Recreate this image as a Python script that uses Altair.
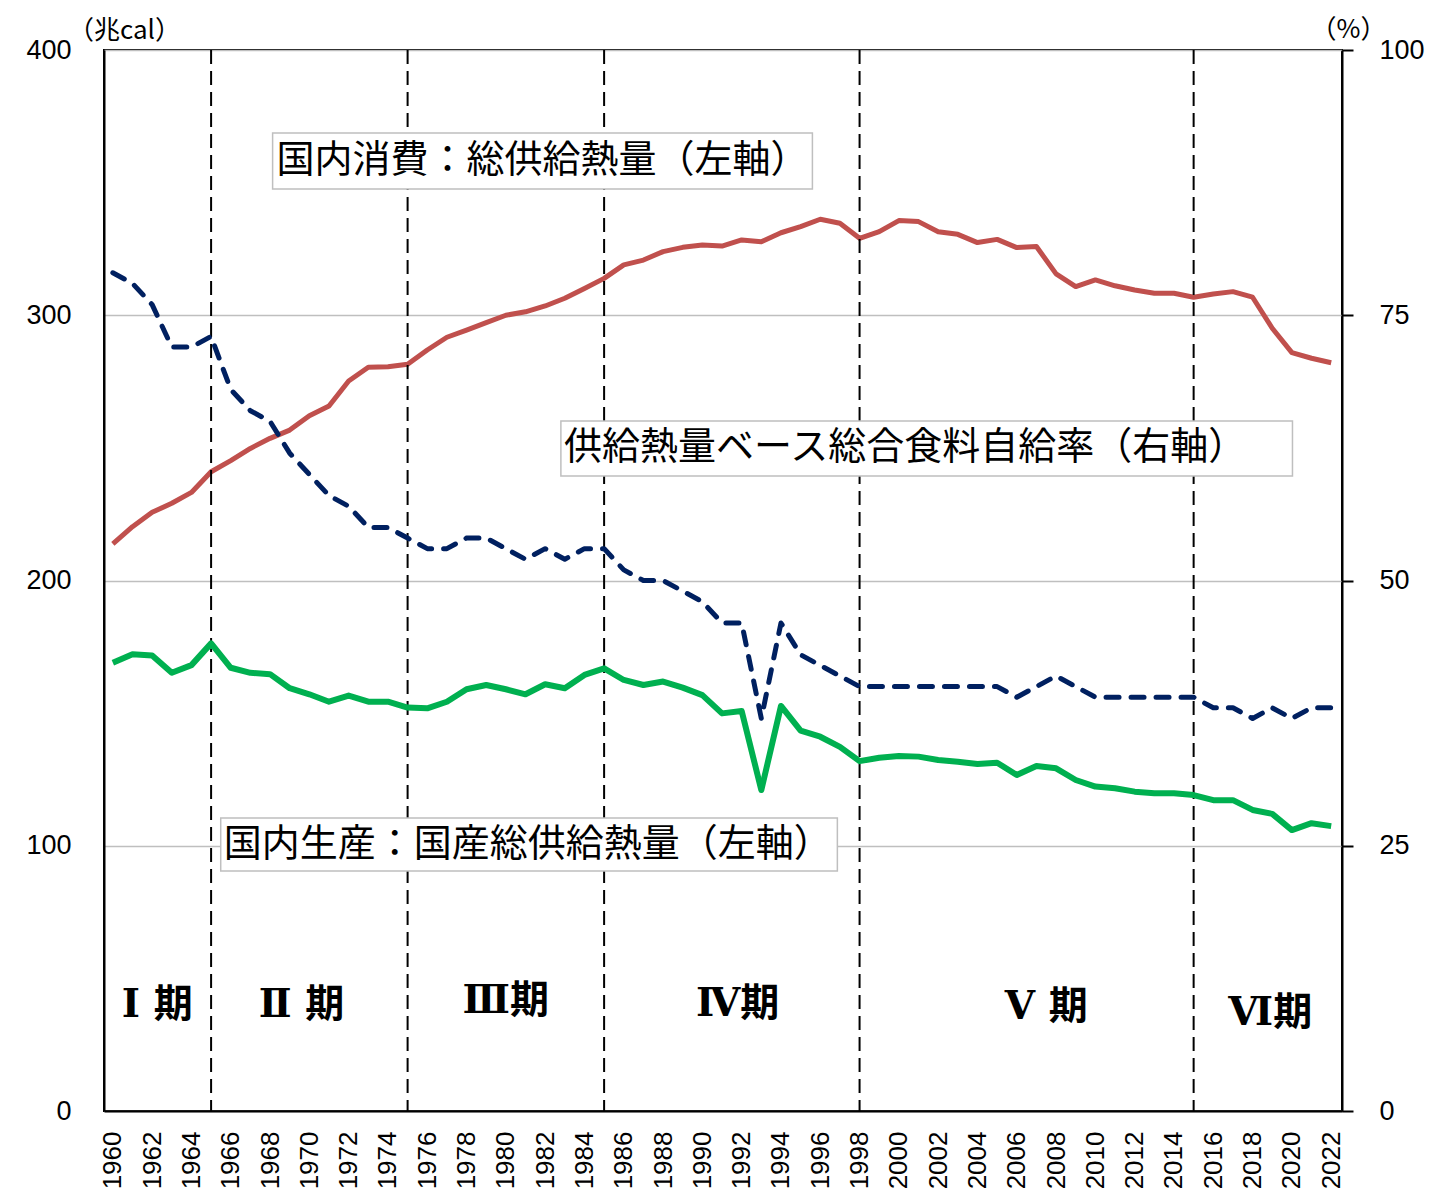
import altair as alt
import pandas as pd

years = list(range(1960, 2023))

# 総供給熱量（兆cal）
supply = [213.8, 220.3, 225.7, 229.1, 233.2, 241.0, 245.2, 249.8, 253.6, 256.7,
          262.1, 265.8, 275.2, 280.4, 280.6, 281.5, 286.9, 291.7, 294.4, 297.2,
          300.0, 301.3, 303.5, 306.4, 310.1, 313.9, 319.0, 320.8, 324.0, 325.6,
          326.5, 326.1, 328.4, 327.7, 331.1, 333.4, 336.2, 334.7, 329.0, 331.5,
          335.7, 335.3, 331.5, 330.5, 327.4, 328.6, 325.5, 325.9, 315.6, 310.8,
          313.3, 311.1, 309.5, 308.3, 308.3, 306.8, 308.0, 308.9, 306.8, 295.1,
          285.9, 283.8, 282.1]

# 国産総供給熱量（兆cal）
domestic = [169.0, 172.2, 171.7, 165.2, 168.1, 176.3, 167.1, 165.2, 164.7, 159.4,
            157.1, 154.3, 156.6, 154.3, 154.3, 152.1, 151.8, 154.3, 159.0, 160.6,
            159.0, 157.1, 160.9, 159.4, 164.4, 166.9, 162.5, 160.6, 161.9, 159.6,
            156.8, 149.9, 150.8, 121.0, 152.7, 143.4, 141.1, 137.3, 131.9, 133.2,
            133.8, 133.6, 132.3, 131.7, 130.8, 131.3, 126.7, 130.1, 129.2, 124.8,
            122.3, 121.7, 120.4, 119.8, 119.8, 119.1, 117.2, 117.2, 113.5, 112.0,
            105.9, 108.5, 107.4]

# 供給熱量ベース総合食料自給率（%）
rate = [79, 78, 76, 72, 72, 73, 68, 66, 65, 62,
        60, 58, 57, 55, 55, 54, 53, 53, 54, 54,
        53, 52, 53, 52, 53, 53, 51, 50, 50, 49,
        48, 46, 46, 37, 46, 43, 42, 41, 40, 40,
        40, 40, 40, 40, 40, 40, 39, 40, 41, 40,
        39, 39, 39, 39, 39, 39, 38, 38, 37, 38,
        37, 38, 38]

# period boundaries
boundaries = [1965, 1975, 1985, 1998, 2015]
period_labels = ["Ⅰ 期", "Ⅱ 期", "Ⅲ期", "Ⅳ期", "Ⅴ 期", "Ⅵ期"]
period_x = [1962.26, 1969.6, 1980.0, 1991.8, 2007.5, 2018.9]
period_y = [40.0, 40.0, 41.5, 40.3, 39.2, 36.9]

# annotation boxes
box_text = ["国内消費：総供給熱量（左軸）",
            "供給熱量ベース総合食料自給率（右軸）",
            "国内生産：国産総供給熱量（左軸）"]
box_x1 = [1968.13, 1982.80, 1965.49]
box_x2 = [1995.60, 2020.03, 1996.87]
box_y1 = [368.7, 260.1, 110.5]
box_y2 = [347.6, 239.4, 90.5]
text_x = [1968.33, 1982.96, 1965.64]
text_y = [358.2, 250.0, 100.3]

df = pd.DataFrame({"year": years, "supply": supply, "domestic": domestic, "rate": rate})
df_b = pd.DataFrame({"year": boundaries})
df_p = pd.DataFrame({"year": period_x, "val": period_y, "label": period_labels})
df_box = pd.DataFrame({"year": box_x1, "year2": box_x2, "val": box_y1, "val2": box_y2})
df_txt = pd.DataFrame({"year": text_x, "val": text_y, "label": box_text})

W, H = 1238, 1061
LAB_FONT = "Liberation Sans, Arial, sans-serif"
JP_FONT = "Noto Sans CJK JP"

xscale = alt.Scale(domain=[1959.55, 2022.55], nice=False, zero=False)
xaxis = alt.Axis(values=list(range(1960, 2023, 2)), format="d", labelAngle=270,
                 ticks=False, grid=False, title="", labelFont=LAB_FONT,
                 labelFontSize=26, labelColor="black", labelPadding=20,
                 domainColor="black", domainWidth=2, labelOverlap=False)


def X(field="year"):
    return alt.X(f"{field}:Q", scale=xscale, axis=xaxis)


left_scale = alt.Scale(domain=[0, 400], nice=False)


def YL(field):
    return alt.Y(f"{field}:Q", scale=left_scale, axis=None)


base = alt.Chart(df)

red = base.mark_line(color="#C0504D", strokeWidth=5, strokeJoin="round").encode(
    x=X(),
    y=alt.Y("supply:Q", scale=left_scale,
            axis=alt.Axis(values=[0, 100, 200, 300, 400], grid=True, gridColor="#BFBFBF",
                          gridWidth=1.5, ticks=False, domainColor="black", domainWidth=2,
                          labelFont=LAB_FONT, labelFontSize=27, labelColor="black",
                          labelPadding=33, title="（兆cal）", titleFont=JP_FONT,
                          titleFontSize=26, titleFontWeight="normal", titleColor="black",
                          titleAngle=0, titleAlign="center", titleBaseline="middle",
                          titleX=20, titleY=-20)),
)

green = base.mark_line(color="#00B050", strokeWidth=6, strokeJoin="round").encode(
    x=X(), y=YL("domestic"))

blue = base.mark_line(color="#002060", strokeWidth=5, strokeDash=[13, 12],
                      strokeCap="round", strokeJoin="round").encode(
    x=X(),
    y=alt.Y("rate:Q", scale=alt.Scale(domain=[0, 100], nice=False),
            axis=alt.Axis(orient="right", values=[0, 25, 50, 75, 100], grid=False,
                          ticks=True, tickSize=11, tickWidth=2, tickColor="black",
                          domainColor="black", domainWidth=2,
                          labelFont=LAB_FONT, labelFontSize=27, labelColor="black",
                          labelPadding=26, title="（%）", titleFont=JP_FONT,
                          titleFontSize=26, titleFontWeight="normal", titleColor="black",
                          titleAngle=0, titleAlign="center", titleBaseline="middle",
                          titleX=6, titleY=-21)),
)

rules = alt.Chart(df_b).mark_rule(color="black", strokeWidth=2, strokeDash=[14, 7]).encode(
    x=X())

boxes = alt.Chart(df_box).mark_rect(fill="white", stroke="#BFBFBF", strokeWidth=1.5).encode(
    x=X(), x2="year2:Q", y=YL("val"), y2="val2:Q")

texts = alt.Chart(df_txt).mark_text(align="left", baseline="middle", font=JP_FONT,
                                    fontSize=38, color="black").encode(
    x=X(), y=YL("val"), text="label:N")

periods = alt.Chart(df_p).mark_text(align="center", baseline="middle",
                                    font="DejaVu Serif, Noto Sans CJK JP",
                                    fontSize=39, fontWeight="bold", color="black").encode(
    x=X(), y=YL("val"), text="label:N")

chart = alt.layer(red, rules, boxes, texts, periods, green, blue).resolve_scale(
    y="independent"
).properties(
    width=W, height=H,
    autosize=alt.AutoSizeParams(type="none"),
    padding={"left": 96, "top": 42, "right": 86, "bottom": 82},
).configure_view(stroke="black", strokeWidth=2)

chart.save("out.html", embed_options={"renderer": "svg", "actions": False})
